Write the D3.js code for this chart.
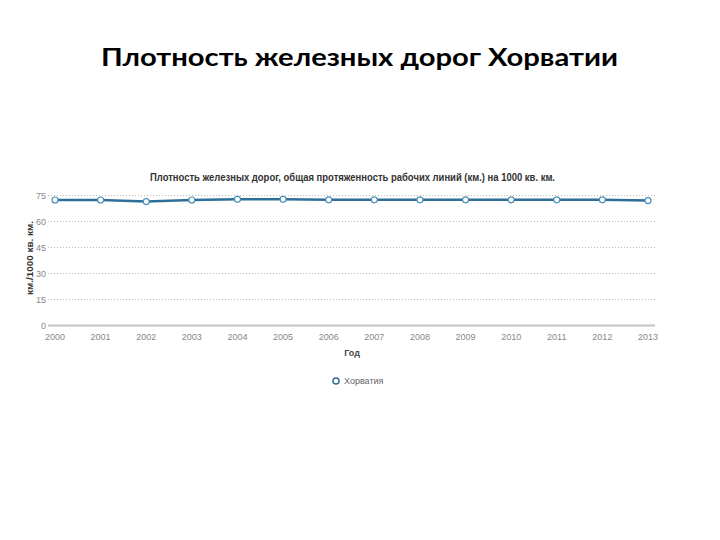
<!DOCTYPE html>
<html><head><meta charset="utf-8">
<script src="https://cdn.jsdelivr.net/npm/d3@7"></script>
<style>body{margin:0;background:#fff}svg{display:block}</style>
</head><body>
<script>
const years = ["2000","2001","2002","2003","2004","2005","2006","2007","2008","2009","2010","2011","2012","2013"];
const values = [72.4, 72.4, 71.5, 72.4, 72.8, 72.8, 72.5, 72.5, 72.5, 72.5, 72.5, 72.5, 72.5, 72.1];
const yTicks = [0, 15, 30, 45, 60, 75];
const seriesName = "Хорватия";
const pageTitle = "Плотность железных дорог Хорватии";
const chartTitle = "Плотность железных дорог, общая протяженность рабочих линий (км.) на 1000 кв. км.";
const yLabel = "км./1000 кв. км.";
const xLabel = "Год";

const W = 720, H = 540;
const svg = d3.select("body").append("svg").attr("width", W).attr("height", H);

svg.append("text").attr("x", 101).attr("y", 66)
  .attr("textLength", 517).attr("lengthAdjust", "spacingAndGlyphs")
  .style("font-family", "Lato, Open Sans, sans-serif").style("font-weight", "bold")
  .style("font-size", "25px").attr("fill", "#000").text(pageTitle);

const x = d3.scalePoint().domain(years).range([55, 648]);
const y = d3.scaleLinear().domain([0, 75]).range([325.5, 195.5]);

// grid
const g = svg.append("g");
g.selectAll("line.grid").data(yTicks.filter(d => d > 0)).join("line")
  .attr("x1", 48).attr("x2", 655).attr("y1", d => y(d)).attr("y2", d => y(d))
  .attr("stroke", "#bbb").attr("stroke-width", 1).attr("stroke-dasharray", "1,2");

// x axis baseline
g.append("line").attr("x1", 48).attr("x2", 655).attr("y1", y(0)).attr("y2", y(0))
  .attr("stroke", "#c4c4c4").attr("stroke-width", 2);

// y tick labels
g.selectAll("text.yt").data(yTicks).join("text")
  .attr("x", 46).attr("y", d => y(d) + 3).attr("text-anchor", "end")
  .style("font-family", "Liberation Sans Narrow, Liberation Sans, sans-serif").style("font-size", "9px")
  .attr("fill", "#888").text(d => d);

// x tick labels
g.selectAll("text.xt").data(years).join("text")
  .attr("x", d => x(d)).attr("y", 340).attr("text-anchor", "middle")
  .style("font-family", "Liberation Sans Narrow, Liberation Sans, sans-serif").style("font-size", "9px")
  .attr("fill", "#888").text(d => d);

// chart title
svg.append("text").attr("x", 150).attr("y", 181)
  .attr("textLength", 405).attr("lengthAdjust", "spacingAndGlyphs")
  .style("font-family", "Liberation Sans Narrow, Liberation Sans, sans-serif").style("font-weight", "bold")
  .style("font-size", "11px").attr("fill", "#333").text(chartTitle);

// y label
svg.append("text").attr("transform", "translate(33,258) rotate(-90)").attr("text-anchor", "middle")
  .attr("textLength", 74).attr("lengthAdjust", "spacingAndGlyphs")
  .style("font-family", "Liberation Sans, sans-serif").style("font-weight", "bold")
  .style("font-size", "9px").attr("fill", "#333").text(yLabel);

// x label
svg.append("text").attr("x", 352).attr("y", 356).attr("text-anchor", "middle")
  .style("font-family", "Liberation Sans Narrow, Liberation Sans, sans-serif").style("font-weight", "bold")
  .style("font-size", "9px").attr("fill", "#444").text(xLabel);

// line
const line = d3.line().x((d, i) => x(years[i])).y(d => y(d));
svg.append("path").datum(values).attr("d", line)
  .attr("fill", "none").attr("stroke", "#2e6f9a").attr("stroke-width", 2.5);
svg.selectAll("circle.pt").data(values).join("circle")
  .attr("cx", (d, i) => x(years[i])).attr("cy", d => y(d)).attr("r", 3)
  .attr("fill", "#fff").attr("stroke", "#4a90b8").attr("stroke-width", 1.2);

// legend
svg.append("circle").attr("cx", 336).attr("cy", 381).attr("r", 3)
  .attr("fill", "#fff").attr("stroke", "#2e6f9a").attr("stroke-width", 1.5);
svg.append("text").attr("x", 344).attr("y", 384)
  .style("font-family", "Liberation Sans Narrow, Liberation Sans, sans-serif").style("font-size", "9px")
  .attr("fill", "#666").text(seriesName);
</script>
</body></html>
